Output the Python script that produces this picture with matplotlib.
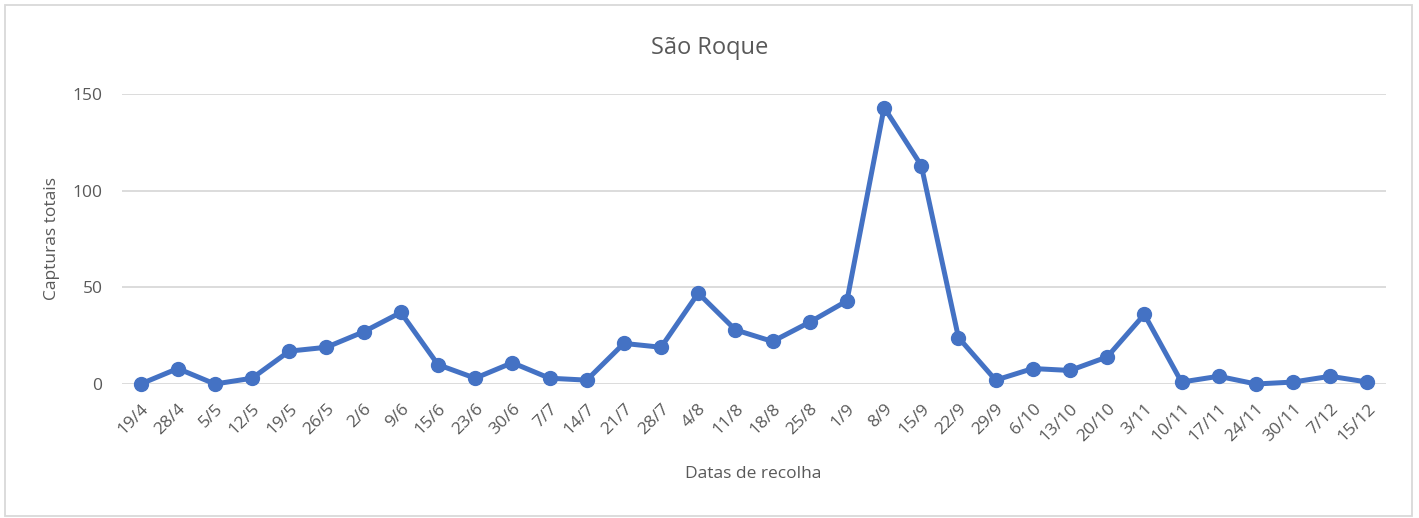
import numpy as np
import matplotlib.pyplot as plt
from matplotlib.patches import Rectangle

datas = ['19/4', '28/4', '5/5', '12/5', '19/5', '26/5', '2/6', '9/6', '15/6', '23/6',
         '30/6', '7/7', '14/7', '21/7', '28/7', '4/8', '11/8', '18/8', '25/8', '1/9',
         '8/9', '15/9', '22/9', '29/9', '6/10', '13/10', '20/10', '3/11', '10/11', '17/11',
         '24/11', '30/11', '7/12', '15/12']
capturas = [0, 8, 0, 3, 17, 19, 27, 37, 10, 3,
            11, 3, 2, 21, 19, 47, 28, 22, 32, 43,
            143, 113, 24, 2, 8, 7, 14, 36, 1, 4,
            0, 1, 4, 1]
yticks = [0, 50, 100, 150]

plt.rcParams['font.family'] = ['Open Sans', 'DejaVu Sans']
cinza = '#595959'

fig = plt.figure(figsize=(14.19, 5.18), dpi=100)
ax = fig.add_axes([122 / 1419, 1 - 384 / 518, 1264 / 1419, 290 / 518])

x = np.arange(len(datas))
ax.plot(x, capturas, color='#4472C4', linewidth=3.6, marker='o', markersize=10,
        clip_on=False, zorder=3)

ax.set_xlim(-0.5, len(datas) - 0.5)
ax.set_ylim(0, 150)
ax.set_yticks(yticks)
ax.set_xticks(x)
ax.set_xticklabels(datas, rotation=45, ha='right', rotation_mode='anchor')
ax.tick_params(axis='x', length=0, pad=12, labelsize=12.5, colors=cinza)
ax.tick_params(axis='y', length=0, pad=14, labelsize=12.5, colors=cinza)
ax.grid(axis='y', color='#D9D9D9', linewidth=1.3)
ax.set_axisbelow(True)
for s in ax.spines.values():
    s.set_visible(False)

fig.text(0.5, 1 - 48 / 518, 'São Roque', fontsize=17, color=cinza,
         ha='center', va='center')
ax.set_ylabel('Capturas totais', fontsize=12.5, color=cinza)
ax.yaxis.set_label_coords((60 - 122) / 1264, 0.5)
ax.set_xlabel('Datas de recolha', fontsize=12.5, color=cinza)
ax.xaxis.set_label_coords((753 - 122) / 1264, (384 - 466) / 290)

fig.patches.append(Rectangle((5 / 1419, 2 / 518), 1407 / 1419, 511 / 518,
                             transform=fig.transFigure, fill=False,
                             edgecolor='#D9D9D9', linewidth=1.3))

fig.savefig('out.png', dpi=100)
